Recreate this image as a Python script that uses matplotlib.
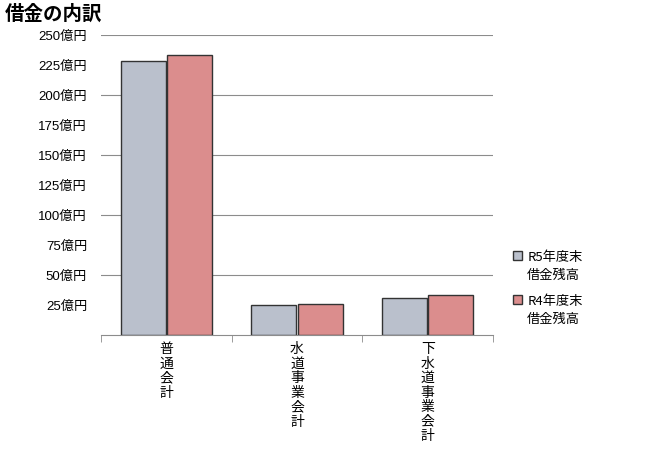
import matplotlib
matplotlib.use("Agg")
import matplotlib.pyplot as plt
import matplotlib.patches as mpatches
from matplotlib.container import BarContainer
from matplotlib.legend_handler import HandlerPatch, update_from_first_child
import numpy as np

plt.rcParams['font.family'] = ['Noto Sans CJK JP', 'DejaVu Sans']

# data (億円)
categories = ["普通会計", "水道事業会計", "下水道事業会計"]
r5_values = [228.3, 25.0, 30.6]
r4_values = [233.3, 25.6, 33.1]
series_labels = ["R5年度末\n借金残高", "R4年度末\n借金残高"]
ytick_values = [25, 50, 75, 100, 125, 150, 175, 200, 225, 250]
grid_values = [50, 100, 150, 200, 250]


# legend square sits next to the first line of the two-line label
def top_square(legend, orig_handle, xdescent, ydescent, width, height, fontsize):
    return mpatches.Rectangle((-xdescent, -ydescent + 8), width, height)


fig = plt.figure(figsize=(6.5, 4.69), dpi=100)
ax = fig.add_axes([0.1554, 0.2857, 0.6031, 0.6397])

x = np.arange(len(categories))
w = 0.345
for g in grid_values:
    ax.axhline(g, color='#8c8c8c', lw=0.8, zorder=0)

ax.bar(x - w/2 - 0.004, r5_values, w, color='#bac0cc', edgecolor='#333333',
       lw=1.0, label=series_labels[0], zorder=2)
ax.bar(x + w/2 + 0.004, r4_values, w, color='#db8d8d', edgecolor='#333333',
       lw=1.0, label=series_labels[1], zorder=2)

ax.set_xlim(-0.5, 2.5)
ax.set_ylim(0, 250)
for s in ['top', 'right', 'left']:
    ax.spines[s].set_visible(False)
ax.spines['bottom'].set_color('#8c8c8c')

ax.set_yticks(ytick_values)
ax.set_yticklabels([f"{v}億円" for v in ytick_values], fontsize=9.5,
                   family=['Liberation Sans', 'Noto Sans CJK JP'])
ax.tick_params(axis='y', length=0, pad=10)

ax.set_xticks(x)
ax.set_xticklabels(['\n'.join(c) for c in categories], fontsize=10,
                   va='top', linespacing=1.05)
ax.tick_params(axis='x', length=0, pad=5)
ax.set_xticks([-0.5, 0.5, 1.5, 2.5], minor=True)
ax.tick_params(axis='x', which='minor', length=5, color='#8c8c8c')

fig.text(0.008, 0.99, "借金の内訳", fontsize=14, fontweight='bold',
         va='top', ha='left')

handler = HandlerPatch(patch_func=top_square, update_func=update_from_first_child)
leg = ax.legend(loc='upper left', bbox_to_anchor=(1.02, 0.32), frameon=False,
                fontsize=9.5, handlelength=0.7, handleheight=0.7,
                handletextpad=0.4, labelspacing=1.0,
                handler_map={BarContainer: handler})
for t in leg.get_texts():
    t.set_linespacing(1.5)

fig.savefig("out.png", dpi=100)
